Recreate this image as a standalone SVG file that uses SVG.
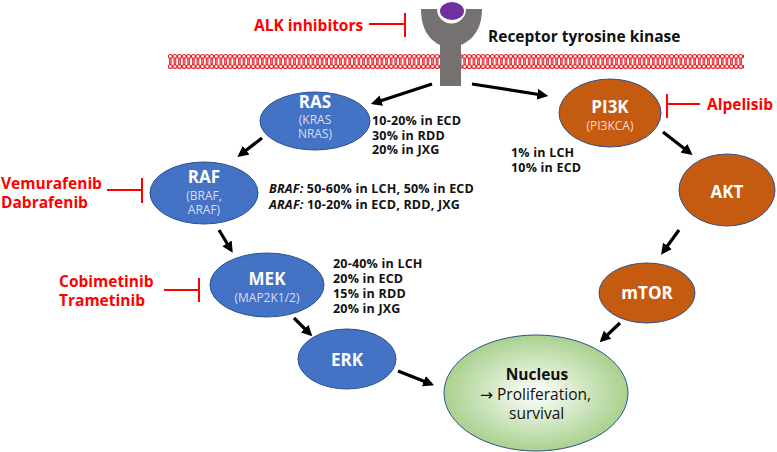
<svg xmlns="http://www.w3.org/2000/svg" width="777" height="452" viewBox="0 0 777 452">
<style>
.f{font-family:"Open Sans","Noto Sans",sans-serif}
.ttl{font-family:"Open Sans","Noto Sans",sans-serif;font-weight:bold;font-size:17px;fill:#ffffff;text-anchor:middle}
.sub{font-family:"Open Sans","Noto Sans",sans-serif;font-size:12px;text-anchor:middle}
.subb{fill:#d6def0}
.subo{fill:#f8ddc9}
.stat{font-family:"Open Sans","Noto Sans",sans-serif;font-weight:bold;font-size:12.5px;letter-spacing:0.2px;fill:#111111}
.drug{font-family:"Open Sans","Noto Sans",sans-serif;font-weight:bold;font-size:15.5px;fill:#ff0000}
.blue{fill:#4472c4;stroke:#2f528f;stroke-width:1}
.orange{fill:#c55a11;stroke:#2f528f;stroke-width:1}
.arr{stroke:#000000;stroke-width:3.2;fill:none;marker-end:url(#ah)}
.inh{stroke:#ff0000;stroke-width:2;fill:none}
</style>
<defs>
<marker id="ah" viewBox="0 0 10 10" refX="7" refY="5" markerWidth="11" markerHeight="11" markerUnits="userSpaceOnUse" orient="auto">
<path d="M0,0 L10,5 L0,10 z" fill="#000000"/>
</marker>
<pattern id="mem" patternUnits="userSpaceOnUse" x="168" y="54" width="4.6" height="15">
<line x1="1.6" y1="4" x2="1.6" y2="11" stroke="#e8101a" stroke-width="1.1"/>
<line x1="3.0" y1="4" x2="3.0" y2="11" stroke="#e8101a" stroke-width="1.1"/>
<circle cx="2.3" cy="2.4" r="1.9" fill="#ffffff" stroke="#e8101a" stroke-width="1"/>
<circle cx="2.3" cy="12.6" r="1.9" fill="#ffffff" stroke="#e8101a" stroke-width="1"/>
</pattern>
<radialGradient id="nuc" cx="50%" cy="50%" r="50%">
<stop offset="0" stop-color="#ffffff"/>
<stop offset="1" stop-color="#a9d18e"/>
</radialGradient>
</defs>

<g id="membrane">
<rect x="168" y="54" width="576" height="15" fill="url(#mem)"/>
</g>

<g id="receptor">
<path d="M421,9 L437,9 A14.5,14.5 0 0 0 466,9 L482,9 C482,30 472,40 461,45 L461,86 L440,86 L440,45 C430,40 421,30 421,9 Z" fill="#767171"/>
<ellipse cx="452" cy="11" rx="12" ry="9" fill="#7030a0"/>
<text class="f" x="488" y="42" font-weight="bold" font-size="15.5" fill="#111111">Receptor tyrosine kinase</text>
</g>

<g id="connectors">
<line class="arr" x1="432" y1="84" x2="374" y2="103"/>
<line class="arr" x1="472" y1="84" x2="545" y2="95.5"/>
<line class="arr" x1="262" y1="138" x2="240" y2="155"/>
<line class="arr" x1="219" y1="230" x2="231" y2="250"/>
<line class="arr" x1="294" y1="318" x2="310" y2="334"/>
<line class="arr" x1="398" y1="371" x2="431" y2="384"/>
<line class="arr" x1="663" y1="132" x2="690" y2="153"/>
<line class="arr" x1="679" y1="230" x2="663" y2="252"/>
<line class="arr" x1="620" y1="323" x2="602" y2="340"/>
<path class="inh" d="M369,24 H405 M405,13 V37"/>
<path class="inh" d="M107,190 H142 M142,178 V203"/>
<path class="inh" d="M164,290 H199 M199,278 V302"/>
<path class="inh" d="M700,104 H667 M667,94 V118"/>
</g>

<g id="alk">
<text class="drug" x="254" y="31" font-size="16">ALK inhibitors</text>
</g>

<g id="ras">
<ellipse class="blue" cx="315" cy="121" rx="55" ry="29"/>
<text class="ttl" x="315" y="108">RAS</text>
<text class="sub subb" x="315" y="124">(KRAS</text>
<text class="sub subb" x="315" y="138">NRAS)</text>
<text class="stat" x="372" y="125">10-20% in ECD</text>
<text class="stat" x="372" y="139.5">30% in RDD</text>
<text class="stat" x="372" y="154">20% in JXG</text>
</g>

<g id="raf">
<ellipse class="blue" cx="204" cy="193" rx="54" ry="31"/>
<text class="ttl" x="204" y="183">RAF</text>
<text class="sub subb" x="204" y="200">(BRAF,</text>
<text class="sub subb" x="204" y="214">ARAF)</text>
<text class="stat" x="269" y="193"><tspan font-style="italic">BRAF:</tspan> 50-60% in LCH, 50% in ECD</text>
<text class="stat" x="269" y="209"><tspan font-style="italic">ARAF:</tspan> 10-20% in ECD, RDD, JXG</text>
<text class="drug" x="1" y="189" font-size="15">Vemurafenib</text>
<text class="drug" x="1" y="208" font-size="15">Dabrafenib</text>
</g>

<g id="mek">
<ellipse class="blue" cx="267" cy="285" rx="57" ry="32"/>
<text class="ttl" x="267" y="285">MEK</text>
<text class="sub subb" x="267" y="302">(MAP2K1/2)</text>
<text class="stat" x="333" y="268">20-40% in LCH</text>
<text class="stat" x="333" y="283">20% in ECD</text>
<text class="stat" x="333" y="298">15% in RDD</text>
<text class="stat" x="333" y="313">20% in JXG</text>
<text class="drug" x="59" y="287">Cobimetinib</text>
<text class="drug" x="59" y="306">Trametinib</text>
</g>

<g id="erk">
<ellipse class="blue" cx="347" cy="359" rx="49" ry="30"/>
<text class="ttl" x="347" y="366">ERK</text>
</g>

<g id="pi3k">
<ellipse class="orange" cx="610" cy="113" rx="51" ry="34"/>
<text class="ttl" x="610" y="113">PI3K</text>
<text class="sub subo" x="610" y="130">(PI3KCA)</text>
<text class="stat" x="511" y="157">1% in LCH</text>
<text class="stat" x="511" y="172">10% in ECD</text>
<text class="drug" x="707" y="110">Alpelisib</text>
</g>

<g id="akt">
<ellipse class="orange" cx="727" cy="190" rx="48" ry="36"/>
<text class="ttl" x="727" y="198">AKT</text>
</g>

<g id="mtor">
<ellipse class="orange" cx="647" cy="293" rx="48" ry="30"/>
<text class="ttl" x="647" y="299">mTOR</text>
</g>

<g id="nucleus">
<ellipse cx="536" cy="393" rx="92" ry="58" fill="url(#nuc)" stroke="#2f528f" stroke-width="1"/>
<text class="f" x="537" y="380" font-weight="bold" font-size="15.5" fill="#111111" text-anchor="middle">Nucleus</text>
<text class="f" x="480" y="400" font-size="15.5" fill="#111111"><tspan font-family="DejaVu Sans, sans-serif">→</tspan> Proliferation,</text>
<text class="f" x="509" y="419" font-size="15.5" fill="#111111">survival</text>
</g>
</svg>
